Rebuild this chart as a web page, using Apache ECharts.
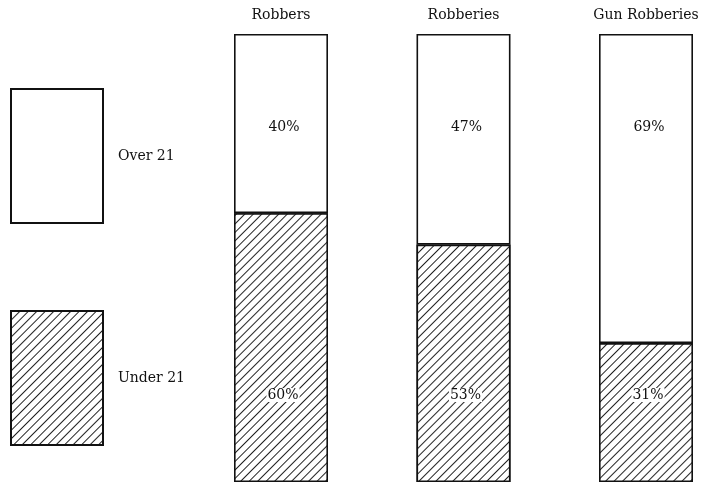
<!DOCTYPE html>
<html>
<head>
<meta charset="utf-8">
<script src="https://cdn.jsdelivr.net/npm/echarts@6/dist/echarts.min.js"></script>
<style>
  html, body { margin: 0; padding: 0; background: #fff; }
  #chart { width: 704px; height: 485px; }
</style>
</head>
<body>
<div id="chart"></div>
<script>
// 数据
const categories = ['Robbers', 'Robberies', 'Gun Robberies'];
const under21 = [60, 53, 31];
const over21 = [40, 47, 69];

const FONT = 'DejaVu Serif';

// 斜线填充 (/ 方向)
const hatch = {
  symbol: 'rect',
  symbolSize: 1,
  color: '#222',
  backgroundColor: '#fff',
  dashArrayX: [[1, 0]],
  dashArrayY: [1, 5],
  rotation: -Math.PI / 4
};

const chart = echarts.init(document.getElementById('chart'));
chart.setOption({
  animation: false,
  backgroundColor: '#fff',
  textStyle: { fontFamily: FONT, color: '#111' },
  legend: {
    orient: 'vertical',
    left: 10,
    top: 88,
    padding: 0,
    itemWidth: 92,
    itemHeight: 134,
    itemGap: 86,
    icon: 'rect',
    selectedMode: false,
    textStyle: { fontFamily: FONT, fontSize: 14, color: '#111', padding: [0, 0, 0, 10] },
    data: ['Over 21', 'Under 21']
  },
  grid: { left: 281, right: 58, top: 34, bottom: 3 },
  xAxis: {
    type: 'category',
    position: 'top',
    boundaryGap: false,
    data: categories,
    axisLine: { show: false },
    axisTick: { show: false },
    axisLabel: { margin: 12, fontFamily: FONT, fontSize: 14, color: '#111' }
  },
  yAxis: { type: 'value', min: 0, max: 100, show: false, splitLine: { show: false } },
  series: [
    {
      name: 'Under 21',
      type: 'bar',
      stack: 'all',
      barWidth: 94,
      data: under21,
      itemStyle: { color: '#fff', borderColor: '#111', borderWidth: 1.6, decal: hatch },
      label: {
        show: true,
        position: 'insideBottom',
        distance: 80,
        offset: [2, 0],
        formatter: '{c}%',
        fontFamily: FONT,
        fontSize: 14,
        color: '#111',
        backgroundColor: '#fff',
        padding: [0, 1]
      }
    },
    {
      name: 'Over 21',
      type: 'bar',
      stack: 'all',
      barWidth: 94,
      data: over21,
      itemStyle: { color: '#fff', borderColor: '#111', borderWidth: 1.6 },
      label: {
        show: true,
        position: 'insideTop',
        distance: 86,
        offset: [3, 0],
        formatter: '{c}%',
        fontFamily: FONT,
        fontSize: 14,
        color: '#111'
      }
    }
  ]
});
</script>
</body>
</html>
